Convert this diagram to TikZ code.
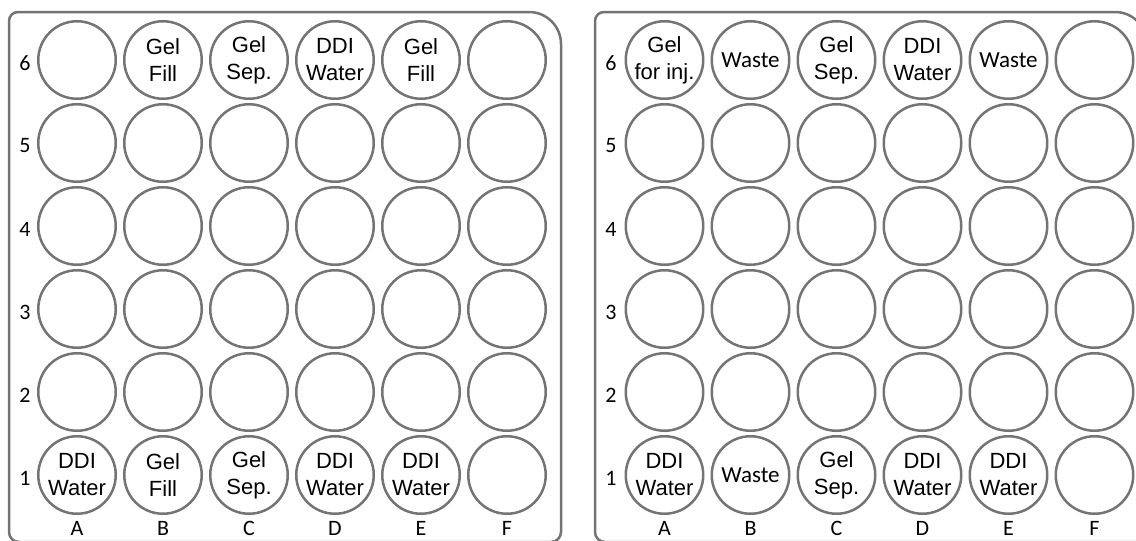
\documentclass[tikz,border=0pt]{standalone}
\usepackage{fontspec}
\setmainfont{Liberation Sans}
\newfontfamily\calfont{Carlito}
\definecolor{rimgray}{HTML}{747474}
\definecolor{inkblack}{HTML}{000000}
\tikzset{
  well/.style={circle, draw=rimgray, line width=2.5pt, minimum size=77.5pt, inner sep=0pt,
    align=center, text=inkblack, font=\fontsize{22}{27}\selectfont},
  wastewell/.style={well, font=\calfont\fontsize{23}{27}\selectfont},
  plate/.style={draw=rimgray, line width=2.5pt},
  axislabel/.style={text=inkblack, font=\calfont\fontsize{22}{24}\selectfont, inner sep=0pt}
}
\begin{document}
\begin{tikzpicture}[x=1pt,y=-1pt]
\useasboundingbox (0,0) rectangle (1136,541);
\clip (0,0) rectangle (1136,541);
% plates
\draw[plate] (9,300) [rounded corners=9] -- (9,12) -- (300,12) [rounded corners=32] -- (561,12) [rounded corners=10] -- (561,542) -- (9,542) -- cycle;
\draw[plate] (595,300) [rounded corners=9] -- (595,12) -- (900,12) [rounded corners=32] -- (1147,12) [rounded corners=10] -- (1147,542) -- (595,542) -- cycle;
% wells
\foreach \c [count=\i from 0] in {A,B,C,D,E,F}{
  \foreach \r in {1,...,6}{
    \node[well] (L-\c\r) at ({77+86*\i},{60+83*(6-\r)}) {};
    \node[well] (R-\c\r) at ({664.5+86*\i},{60+83*(6-\r)}) {};
  }
  \node[axislabel] (LcolLabel-\c) at ({77+86*\i},528) {\c};
  \node[axislabel] (RcolLabel-\c) at ({664.5+86*\i},528) {\c};
}
\foreach \r in {1,...,6}{
  \node[axislabel] (LrowLabel-\r) at (25,{63+83*(6-\r)}) {\r};
  \node[axislabel] (RrowLabel-\r) at (611,{63+83*(6-\r)}) {\r};
}
% left plate labels
\node[well, draw=none] (LtB6) at (L-B6) {Gel\\Fill};
\node[well, draw=none] (LtC6) at (L-C6) {Gel\\Sep.};
\node[well, draw=none] (LtD6) at (L-D6) {DDI\\Water};
\node[well, draw=none] (LtE6) at (L-E6) {Gel\\Fill};
\node[well, draw=none] (LtA1) at (L-A1) {DDI\\Water};
\node[well, draw=none] (LtB1) at (L-B1) {Gel\\Fill};
\node[well, draw=none] (LtC1) at (L-C1) {Gel\\Sep.};
\node[well, draw=none] (LtD1) at (L-D1) {DDI\\Water};
\node[well, draw=none] (LtE1) at (L-E1) {DDI\\Water};
% right plate labels
\node[well, draw=none] (RtA6) at (R-A6) {Gel\\for inj.};
\node[wastewell, draw=none] (RtB6) at (R-B6) {Waste};
\node[well, draw=none] (RtC6) at (R-C6) {Gel\\Sep.};
\node[well, draw=none] (RtD6) at (R-D6) {DDI\\Water};
\node[wastewell, draw=none] (RtE6) at (R-E6) {Waste};
\node[well, draw=none] (RtA1) at (R-A1) {DDI\\Water};
\node[wastewell, draw=none] (RtB1) at (R-B1) {Waste};
\node[well, draw=none] (RtC1) at (R-C1) {Gel\\Sep.};
\node[well, draw=none] (RtD1) at (R-D1) {DDI\\Water};
\node[well, draw=none] (RtE1) at (R-E1) {DDI\\Water};
\end{tikzpicture}
\end{document}
